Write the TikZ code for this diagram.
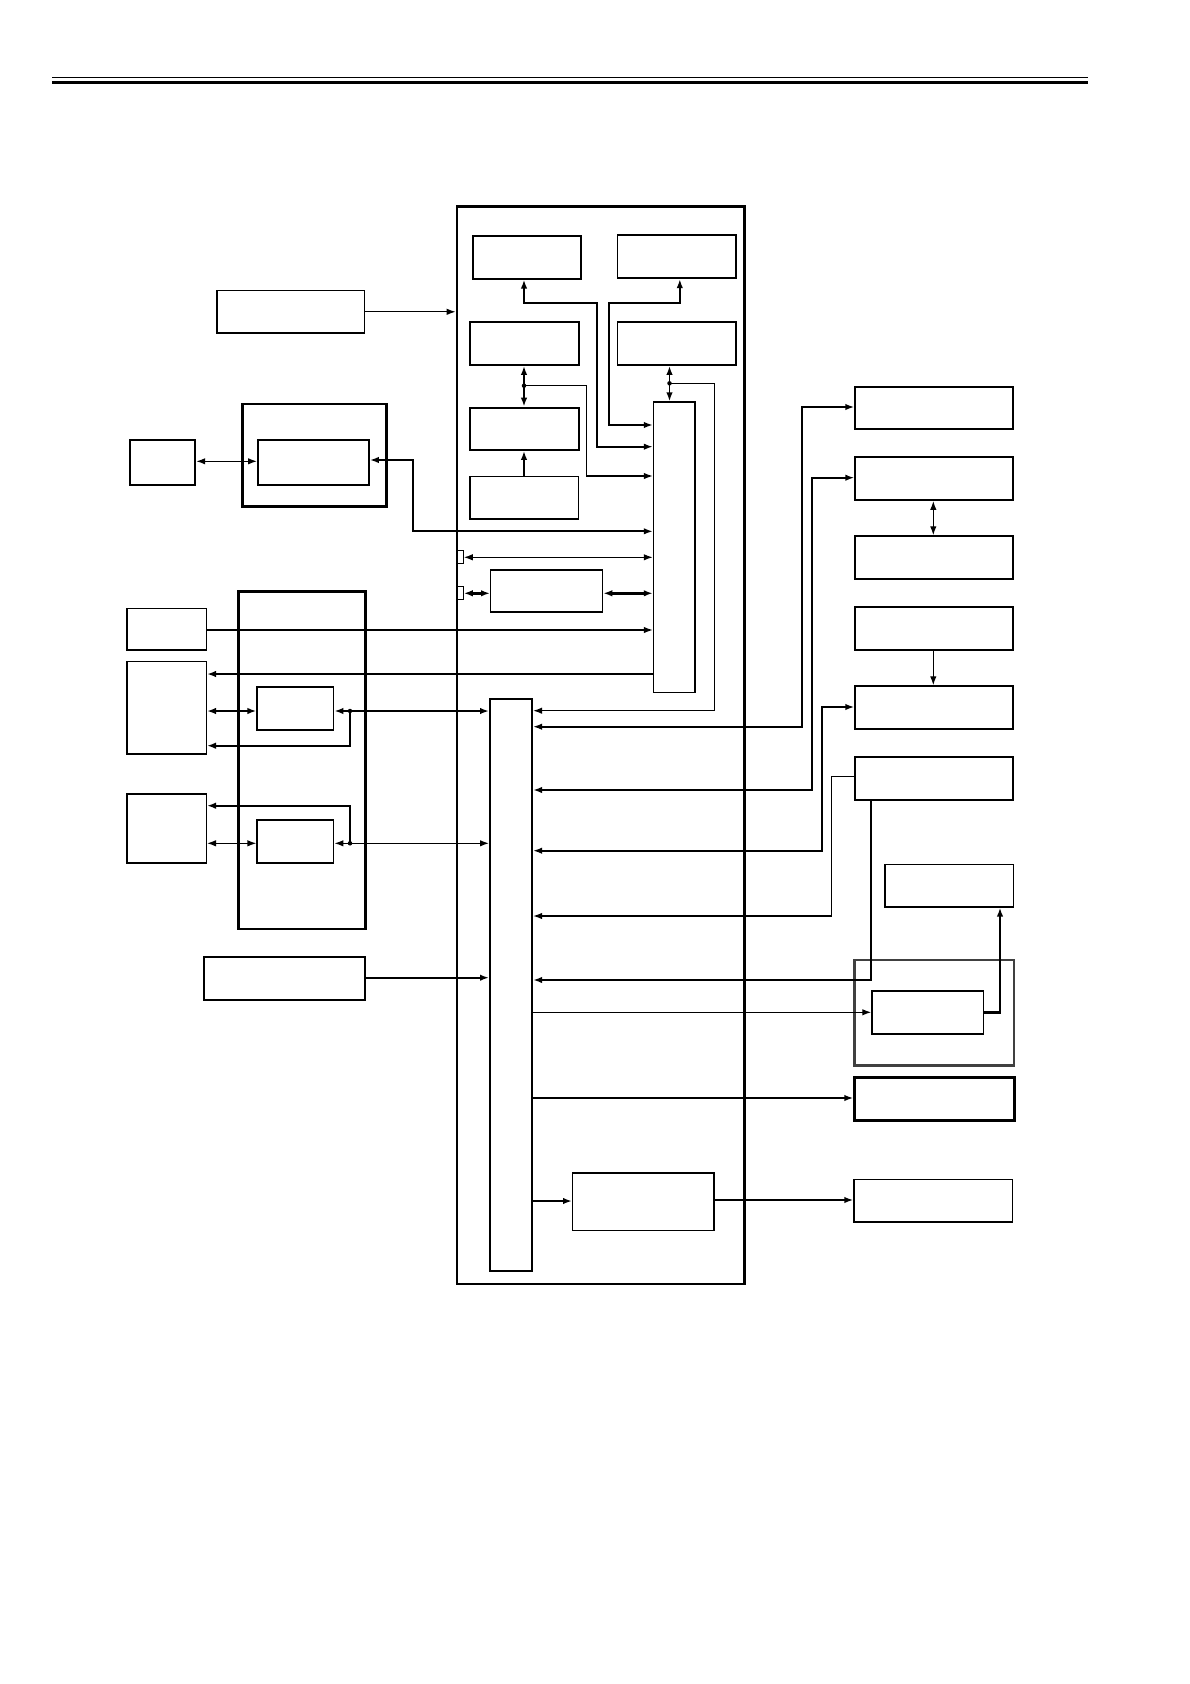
\documentclass[tikz,border=0pt]{standalone}
\usetikzlibrary{arrows.meta,calc}
\tikzset{
 bx/.style={draw,inner sep=0pt,anchor=north west,line width=1.6pt},
 thk/.style={line width=2.5pt},
 med/.style={line width=1.9pt},
 thn/.style={line width=1.3pt},
 wire/.style={line width=1.3pt},
 mwire/.style={line width=1.7pt},
 bwire/.style={line width=2.4pt},
 arr/.style={-{Latex[length=9pt,width=6.5pt]}},
 darr/.style={{Latex[length=9pt,width=6.5pt]}-{Latex[length=9pt,width=6.5pt]}},
 jdot/.style={circle,fill,inner sep=0pt,minimum size=4.5pt},
}
\newcommand{\bx}[6]{\node[bx,#6,minimum width={(#4-#2)*1pt},minimum height={(#5-#3)*1pt}] (#1) at (#2,#3) {};}
\begin{document}
\begin{tikzpicture}[x=1pt,y=-1pt]
\useasboundingbox (0,0) rectangle (1190,1684);
% header rules
\coordinate (hl) at (52,77.3); \coordinate (hr) at (1088,77.3);
\draw[line width=1.3pt] (hl) -- (hr);
\draw[line width=3pt] (52,82.3) -- (1088,82.3);
% central unit
\bx{big}{455.7}{205}{743}{1282.7}{thk}
\bx{A1}{471.7}{235}{580.3}{277.7}{med}
\bx{A2}{616.5}{234.3}{735}{277.3}{med}
\bx{B1}{469.3}{321.3}{577.7}{364}{med}
\bx{B2}{616.5}{321.3}{735}{364}{med}
\bx{C1}{469.3}{406.7}{577.7}{449}{med}
\bx{D1}{469.3}{475.7}{577.7}{518.3}{thn}
\bx{E}{652.8}{401.3}{694.3}{691.5}{thn}
\bx{sq1}{456}{550}{462.5}{563}{thn}
\bx{sq2}{456}{586}{462.5}{599}{thn}
\bx{F}{490}{569.3}{602}{611.3}{thn}
\bx{G}{489}{697.7}{531.2}{1269.7}{med}
\bx{H}{572}{1172.3}{713.3}{1230}{thn}
% left side
\bx{L1}{216.3}{290}{363.5}{332.3}{thn}
\bx{L2}{241.4}{402.7}{385}{505}{thk}
\bx{L2i}{257}{439}{368}{484}{med}
\bx{L3}{128.6}{439}{194.3}{484.3}{med}
\bx{L4}{126.4}{607.7}{205.7}{649.3}{thn}
\bx{L5}{126.4}{660.7}{205.7}{753.3}{thn}
\bx{L6}{237}{590.3}{364}{927.7}{thk}
\bx{L6a}{256.4}{686}{332.5}{729.3}{med}
\bx{L6b}{256.4}{819.3}{332.5}{862.3}{med}
\bx{L7}{126.4}{793.3}{205.7}{862.3}{thn}
\bx{L8}{203}{956.3}{363.6}{999}{med}
% right side
\bx{R1}{854.3}{385.7}{1012.3}{428}{med}
\bx{R2}{854.3}{456.3}{1012.3}{499}{med}
\bx{R3}{854.3}{535.3}{1012.3}{578}{med}
\bx{R4}{854.3}{606.3}{1012.3}{649}{med}
\bx{R5}{854.3}{685.3}{1012.3}{727.7}{med}
\bx{R6}{854.3}{756.3}{1012.3}{799}{med}
\bx{R7}{884.3}{863.7}{1012.7}{906.3}{thn}
\bx{R8}{853.3}{958.7}{1012.7}{1064}{thk,draw=black!75}
\bx{R8i}{871.3}{990.3}{982.7}{1033.3}{thn}
\bx{R9}{853.3}{1076.3}{1013.3}{1119}{thk}
\bx{R10}{853.3}{1178.7}{1011.7}{1221.3}{thn}
% junctions
\node[jdot] (jB1) at (524,385.7) {};
\node[jdot] (jB2) at (669.5,383.3) {};
\node[jdot] (j1) at (350,711) {};
\node[jdot] (j2) at (350,843.3) {};
% ---- connectors, central top
\draw[mwire,darr] (A1.south -| 524,0) -- (524,302.7) -- (597.3,302.7) -- (597.3,446.7) -- (E.west |- 0,446.7);
\draw[mwire,darr] (A2.south -| 679.8,0) -- (679.8,302.7) -- (609.2,302.7) -- (609.2,425) -- (E.west |- 0,425);
\draw[bwire,darr] (B1.south -| 524,0) -- (C1.north -| 524,0);
\draw[wire,arr] (jB1.center) -- (586.2,385.7) -- (586.2,476) -- (E.west |- 0,476);
\draw[bwire,arr] (D1.north -| 524,0) -- (C1.south -| 524,0);
\draw[mwire,darr] (B2.south -| 669.5,0) -- (E.north -| 669.5,0);
\draw[wire,arr] (jB2.center) -- (714.6,383.3) -- (714.6,710.7) -- (G.east |- 0,710.7);
% ---- left
\draw[wire,arr] (L1.east) -- (big.west |- L1.east);
\draw[wire,darr] (L3.east |- 0,461.3) -- (L2i.west |- 0,461.3);
\draw[mwire,darr] (L2i.east |- 0,460) -- (412.9,460) -- (412.9,531.3) -- (E.west |- 0,531.3);
\draw[wire,darr] (sq1.east |- 0,557.3) -- (E.west |- 0,557.3);
\draw[bwire,darr] (sq2.east |- 0,593.3) -- (F.west |- 0,593.3);
\draw[bwire,darr] (F.east |- 0,593.3) -- (E.west |- 0,593.3);
\draw[wire,arr] (L4.east |- 0,630) -- (E.west |- 0,630);
\draw[bwire,arr] (E.west |- 0,674) -- (L5.east |- 0,674);
\draw[bwire,darr] (L5.east |- 0,711) -- (L6a.west |- 0,711);
\draw[bwire,arr] (j1.center) -- (L6a.east |- j1.center);
\draw[bwire,arr] (j1.center) -- (G.west |- j1.center);
\draw[mwire,arr] (j1.center) -- (350,745.7) -- (L5.east |- 0,745.7);
\draw[wire,darr] (L7.east |- 0,843.3) -- (L6b.west |- 0,843.3);
\draw[wire,arr] (j2.center) -- (L6b.east |- j2.center);
\draw[wire,arr] (j2.center) -- (G.west |- j2.center);
\draw[bwire,arr] (j2.center) -- (350,805.7) -- (L7.east |- 0,805.7);
\draw[bwire,arr] (L8.east |- 0,977.7) -- (G.west |- 0,977.7);
% ---- right
\draw[bwire,darr] (G.east |- 0,726.7) -- (802,726.7) -- (802,407) -- (R1.west |- 0,407);
\draw[mwire,darr] (G.east |- 0,790) -- (811.7,790) -- (811.7,477.7) -- (R2.west |- 0,477.7);
\draw[wire,darr] (R2.south -| 933.3,0) -- (R3.north -| 933.3,0);
\draw[wire,arr] (R4.south -| 933.3,0) -- (R5.north -| 933.3,0);
\draw[bwire,darr] (G.east |- 0,850.7) -- (821.7,850.7) -- (821.7,707) -- (R5.west |- 0,707);
\draw[wire,arr] (R6.west |- 0,776.7) -- (831.7,776.7) -- (831.7,916) -- (G.east |- 0,916);
\draw[bwire,arr] (R6.south -| 870.7,0) -- (870.7,980) -- (G.east |- 0,980);
\draw[wire,arr] (G.east |- 0,1012.3) -- (R8i.west |- 0,1012.3);
\draw[bwire,arr] (R8i.east |- 0,1012.3) -- (1000,1012.3) -- (R7.south -| 1000,0);
\draw[bwire,arr] (G.east |- 0,1098) -- (R9.west |- 0,1098);
\draw[bwire,arr] (G.east |- 0,1201) -- (H.west |- 0,1201);
\draw[bwire,arr] (H.east |- 0,1200) -- (R10.west |- 0,1200);
\end{tikzpicture}
\end{document}
